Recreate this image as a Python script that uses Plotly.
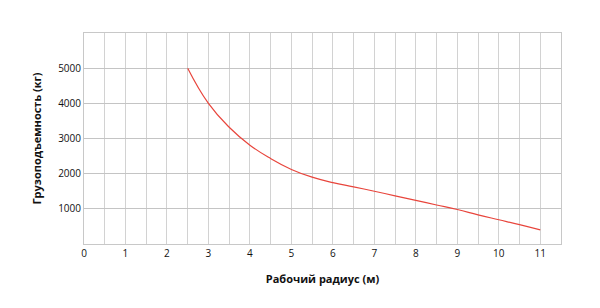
import plotly.graph_objects as go

radius_m = [2.5, 3.0, 3.5, 4.0, 4.5, 5.0, 5.5, 6.0, 6.5, 7.0, 7.5, 8.0, 8.5, 9.0, 9.5, 10.0, 10.5, 11.0]
capacity_kg = [5000, 4000, 3320, 2810, 2430, 2120, 1900, 1745, 1625, 1500, 1370, 1240, 1110, 980, 830, 690, 550, 400]
x_ticks = list(range(0, 12))
y_ticks = [1000, 2000, 3000, 4000, 5000]

grid = "#d2d2d2"
font_family = "Open Sans, DejaVu Sans, sans-serif"

fig = go.Figure()
fig.add_trace(go.Scatter(
    x=radius_m, y=capacity_kg, mode="lines",
    line=dict(color="#e8453c", width=1.2, shape="spline", smoothing=1.3),
    hoverinfo="skip", showlegend=False,
))

fig.update_layout(
    width=600, height=308,
    margin=dict(l=84, r=39, t=33, b=64),
    paper_bgcolor="white", plot_bgcolor="white",
    font=dict(family=font_family, size=10, color="#111"),
    xaxis=dict(
        range=[0, 11.5], tickvals=x_ticks, ticks="", showgrid=True, gridcolor=grid, gridwidth=1,
        minor=dict(dtick=0.5, tick0=0, showgrid=True, gridcolor=grid, gridwidth=1),
        showline=True, linecolor="#c8c8c8", linewidth=1, mirror=True, zeroline=False,
        title=dict(text="<b>Рабочий радиус (м)</b>", font=dict(size=11, family=font_family), standoff=16),
        ticklabelstandoff=0,
    ),
    yaxis=dict(
        range=[0, 6000], tickvals=y_ticks, ticks="", showgrid=True, gridcolor="#c4c4c4", gridwidth=1,
        minor=dict(dtick=1000, tick0=0, showgrid=True, gridcolor="#c4c4c4"),
        showline=True, linecolor="#c8c8c8", linewidth=1, mirror=True, zeroline=False,
        title=dict(text="<b>Грузоподъемность (кг)</b>", font=dict(size=11, family=font_family), standoff=14),
    ),
)

fig.write_html("out.html")
